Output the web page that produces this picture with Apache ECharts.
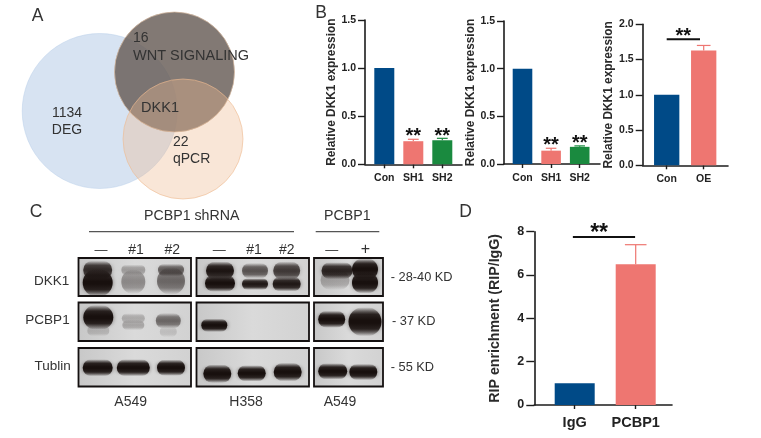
<!DOCTYPE html>
<html><head><meta charset="utf-8">
<style>html,body{margin:0;padding:0;background:#fff}#c{width:761px;height:438px;filter:blur(0.45px)}</style>
<script src="https://cdn.jsdelivr.net/npm/echarts@6/dist/echarts.min.js"></script>
</head><body><div id="c"></div>
<script>
// ---- data ----
const vennCounts = ['1134', '16', '22'];
const vennNames = ['DEG', 'WNT SIGNALING', 'qPCR'];
const panel1Categories = ['Con', 'SH1', 'SH2'];
const panel1Values = [1.0, 0.24, 0.25];
const panel1ErrorTops = [null, 0.26, 0.27];
const panel2Categories = ['Con', 'SH1', 'SH2'];
const panel2Values = [1.0, 0.14, 0.18];
const panel2ErrorTops = [null, 0.165, 0.19];
const panel3Categories = ['Con', 'OE'];
const panel3Values = [1.0, 1.63];
const panel3ErrorTops = [null, 1.70];
const panelDCategories = ['IgG', 'PCBP1'];
const panelDValues = [1.0, 6.5];
const panelDErrorTops = [null, 7.4];
const blotRows = ['DKK1', 'PCBP1', 'Tublin'];
const blotSizes = ['- 28-40 KD', '- 37 KD', '- 55 KD'];
const blotCells = ['A549', 'H358', 'A549'];
// band darkness (0..1) in reading order of bandBoxes
const bandDarkness = [
  .8,1, .28,.36, .55,.5,   .95,1, .6,.92, .72,.92,   .85,.25, 1,1,
  1,.16, .22,.24, .5,.12,    1,                         1,1,
  1,1,1,                    1,1,1,                     1,1
];

// ---- layout (pixels) ----
const W = 761, H = 438;
const C = {blue:'#004a87', pink:'#ee7671', green:'#1a8a3f', ax:'#1c1c1c', txt:'#333'};
const FONT = '"Liberation Sans", Arial, sans-serif';
const bandBoxes = [ // cx, cy, w, h
 [97.7,270,27,11],[97.7,282.7,28,17],[133.3,270,22,6],[133.3,281.7,22,15],[171,270,24,7],[171,281,26,17],
 [220,270.7,26,11],[220,283.3,28,10],[255,270.7,24,9],[255,284,24,6.5],[286.7,270.7,25,11],[286.7,284,26,8.5],
 [337,270.7,29,10],[335,280,27,12],[365,269.3,24,13],[365,282.7,24,13],
 [98.3,317.3,28,15],[98.3,330.7,20,6],[133.3,318.3,21,5.5],[133.3,325,20,5.5],[168.3,320.7,23,9],[168.3,331.7,15,6],
 [214.3,325.3,24,7.5],
 [331.7,319.3,25,10],[365,321.7,31,18],
 [97.7,367.7,28,10],[133.3,367.7,31,10],[171,367.7,26,9.5],
 [217.3,373.7,26,11],[251.7,373.3,26,9.5],[287.7,372,26,11],
 [332.7,371.3,27,9.5],[363.3,372,26,9.5]
];
const blotBoxes = [];
const rowsY = [[258,296],[302.5,341],[348,386.5]], colsX = [[78.5,191],[196.5,309],[314,383]];
rowsY.forEach(r => colsX.forEach(c => blotBoxes.push([c[0], r[0], c[1]-c[0], r[1]-r[0]])));
const vennCircles = [ // cx, cy, r, fill, stroke
 [99.7,111,77.5,'rgba(176,200,230,0.5)','rgba(176,200,230,0.4)'],
 [174.5,72,60,'rgba(102,92,85,0.82)','rgba(215,185,160,0.7)'],
 [183,139,60,'rgba(238,186,145,0.36)','rgba(238,186,145,0.6)']
];

const panels = [
 {cats:panel1Categories, vals:panel1Values, errs:panel1ErrorTops, colors:[C.blue,C.pink,C.green], left:365, right:462, top:20, bottom:164.3, first:384.3, band:29, bw:20, max:1.5, step:.5, dec:1,
  name:'Relative DKK1 expression', nameSize:11.9, nameGap:24, tick:10.5, xl:10.5, tl:7, lm:9, xm:8.5, star:20, stars:[[1,.333],[2,.333]], sig:null},
 {cats:panel2Categories, vals:panel2Values, errs:panel2ErrorTops, colors:[C.blue,C.pink,C.green], left:504, right:600, top:21, bottom:164, first:522.5, band:28.6, bw:19.6, max:1.5, step:.5, dec:1,
  name:'Relative DKK1 expression', nameSize:11.9, nameGap:22, tick:10.5, xl:10.5, tl:7, lm:9, xm:8.5, star:20, stars:[[1,.234],[2,.259]], sig:null},
 {cats:panel3Categories, vals:panel3Values, errs:panel3ErrorTops, colors:[C.blue,C.pink], left:642.7, right:728, top:24.3, bottom:165.3, first:666.7, band:37, bw:25.3, max:2, step:.5, dec:1,
  name:'Relative DKK1 expression', nameSize:11.9, nameGap:22, tick:10.5, xl:10.5, tl:7, lm:9, xm:8.5, star:20, stars:[[.45,1.887]], sig:[0,.9,1.787]},
 {cats:panelDCategories, vals:panelDValues, errs:panelDErrorTops, colors:[C.blue,C.pink], left:534.3, right:672, top:231.7, bottom:405, first:574.7, band:61, bw:40, max:8, step:2, dec:0,
  name:'RIP enrichment (RIP/IgG)', nameSize:14.2, nameGap:32, tick:12.5, xl:14.5, tl:8, lm:10, xm:10, star:23, stars:[[.4,8.08]], sig:[-.03,.99,7.75]}
];

const grid=[], xAxis=[], yAxis=[], series=[];
grid.push({left:0, top:0, width:W, height:H, show:false});
xAxis.push({type:'value', min:0, max:W, show:false, gridIndex:0});
yAxis.push({type:'value', min:0, max:H, inverse:true, show:false, gridIndex:0});

// Venn circles
series.push({type:'custom', xAxisIndex:0, yAxisIndex:0, silent:true, clip:false, z:1,
  data:vennCircles.map((c,i)=>[c[0],c[1],i]),
  renderItem(p,api){const c=vennCircles[api.value(2)];const q=api.coord([c[0],c[1]]);
    return {type:'circle',shape:{cx:q[0],cy:q[1],r:c[2]},style:{fill:c[3],stroke:c[4],lineWidth:1}};}});
// Blot backgrounds
series.push({type:'custom', xAxisIndex:0, yAxisIndex:0, silent:true, clip:false, z:1,
  data:blotBoxes.map((b,i)=>[b[0],b[1],i]),
  renderItem(p,api){const b=blotBoxes[api.value(2)];const q=api.coord([b[0],b[1]]);
    return {type:'rect',shape:{x:q[0],y:q[1],width:b[2],height:b[3]},
      style:{fill:{type:'linear',x:0,y:0,x2:1,y2:0,colorStops:[{offset:0,color:'#c8c8c8'},{offset:.5,color:'#dadada'},{offset:1,color:'#d2d2d2'}]}}};}});
// Bands: soft-edged via a vertical gradient and a blurred shadow
series.push({type:'custom', xAxisIndex:0, yAxisIndex:0, silent:true, clip:false, z:2,
  data:bandBoxes.map((b,i)=>[b[0],b[1],i]),
  renderItem(p,api){const i=api.value(2),b=bandBoxes[i],d=bandDarkness[i];const q=api.coord([b[0],b[1]]);
    const rgba=a=>'rgba(24,16,14,'+a+')';
    const h=b[3]*1.5+2, w=b[2]+2;
    return {type:'rect',shape:{x:q[0]-w/2,y:q[1]-h/2,width:w,height:h,r:h/2},
      style:{fill:{type:'linear',x:0,y:0,x2:0,y2:1,colorStops:[
        {offset:0,color:rgba(0)},{offset:.25,color:rgba(d*.85)},{offset:.45,color:rgba(d)},
        {offset:.55,color:rgba(d)},{offset:.75,color:rgba(d*.85)},{offset:1,color:rgba(0)}]},
        shadowBlur:4,shadowColor:rgba(d*.5)}};}});
// Blot borders
series.push({type:'custom', xAxisIndex:0, yAxisIndex:0, silent:true, clip:false, z:3,
  data:blotBoxes.map((b,i)=>[b[0],b[1],i]),
  renderItem(p,api){const b=blotBoxes[api.value(2)];const q=api.coord([b[0],b[1]]);
    return {type:'rect',shape:{x:q[0],y:q[1],width:b[2],height:b[3]},style:{fill:'none',stroke:'#141010',lineWidth:1.8}};}});

panels.forEach((P,k)=>{
  const gi=k+1;
  grid.push({left:P.left, top:P.top, width:P.right-P.left, height:P.bottom-P.top, show:false});
  const idx=P.cats.map((_,i)=>i);
  xAxis.push({type:'value', gridIndex:gi, min:(P.left-P.first)/P.band, max:(P.right-P.first)/P.band,
    splitLine:{show:false},
    axisLine:{show:true,lineStyle:{color:C.ax,width:1.6}},
    axisTick:{show:true,length:4,customValues:idx,lineStyle:{color:C.ax,width:1.4}},
    axisLabel:{show:true,customValues:idx,margin:P.xm,color:'#222',fontFamily:FONT,fontWeight:'bold',fontSize:P.xl,
      formatter:v=>P.cats[Math.round(v)]}});
  yAxis.push({type:'value', gridIndex:gi, min:0, max:P.max, interval:P.step,
    splitLine:{show:false},
    axisLine:{show:true,onZero:false,lineStyle:{color:C.ax,width:1.6}},
    axisTick:{show:true,length:P.tl,lineStyle:{color:C.ax,width:1.4}},
    axisLabel:{margin:P.lm,color:'#222',fontFamily:FONT,fontWeight:'bold',fontSize:P.tick,formatter:v=>v.toFixed(P.dec)},
    name:P.name,nameLocation:'middle',nameGap:P.nameGap,nameRotate:90,
    nameTextStyle:{color:'#2a2a2a',fontFamily:FONT,fontWeight:'bold',fontSize:P.nameSize}});
  series.push({type:'bar',xAxisIndex:gi,yAxisIndex:gi,barWidth:P.bw,silent:true,z:3,
    data:P.vals.map((v,i)=>({value:[i,v],itemStyle:{color:P.colors[i]}}))});
  // error bars
  series.push({type:'custom',xAxisIndex:gi,yAxisIndex:gi,silent:true,clip:false,z:2,
    data:P.errs.map((e,i)=>[i,P.vals[i],e]).filter(d=>d[2]!=null),
    renderItem(p,api){const a=api.coord([api.value(0),api.value(1)]),b=api.coord([api.value(0),api.value(2)]);
      const col=P.colors[api.value(0)],cap=P.bw*.27;
      return {type:'group',children:[
        {type:'line',shape:{x1:a[0],y1:a[1],x2:b[0],y2:b[1]},style:{stroke:col,lineWidth:1.2}},
        {type:'line',shape:{x1:b[0]-cap,y1:b[1],x2:b[0]+cap,y2:b[1]},style:{stroke:col,lineWidth:1.2}}]};}});
  // stars
  series.push({type:'custom',xAxisIndex:gi,yAxisIndex:gi,silent:true,clip:false,z:4,
    data:P.stars,
    renderItem(p,api){const a=api.coord([api.value(0),api.value(1)]);
      return {type:'text',style:{x:a[0],y:a[1]+4,text:'**',align:'center',verticalAlign:'middle',
        font:'bold '+P.star+'px '+FONT,fill:'#111'}};}});
  if(P.sig) series.push({type:'custom',xAxisIndex:gi,yAxisIndex:gi,silent:true,clip:false,z:4,
    data:[P.sig],
    renderItem(p,api){const a=api.coord([api.value(0),api.value(2)]),b=api.coord([api.value(1),api.value(2)]);
      return {type:'line',shape:{x1:a[0],y1:a[1],x2:b[0],y2:b[1]},style:{stroke:'#111',lineWidth:2}};}});
});

const T=(x,y,text,size,align,extra)=>Object.assign({type:'text',x,y,z:20,
  style:Object.assign({text,align:align||'center',verticalAlign:'middle',font:(size||13)+'px '+FONT,fill:C.txt},extra||{})});
const L=(x1,x2,y)=>({type:'line',z:20,shape:{x1,y1:y,x2,y2:y},style:{stroke:'#555',lineWidth:1.2}});
const graphic=[
  T(37.5,16.5,'A',17.5), T(321,13,'B',17.5), T(36,212,'C',17.5), T(465.5,212,'D',17.5),
  T(133,38.5,vennCounts[1],14,'left'), T(133,56,vennNames[1],14.5,'left'),
  T(160,108,'DKK1',14.5), T(67,113,vennCounts[0],14), T(67,130,vennNames[0],14),
  T(173,142.5,vennCounts[2],14,'left'), T(173,159,vennNames[2],14,'left'),
  T(191.7,215.7,'PCBP1 shRNA',14.2), L(89,294,231.7), T(347.3,215.7,'PCBP1',14.2), L(315.7,379.3,231.7),
  T(101,250,'—',13), T(136,250,'#1',14), T(172.3,250,'#2',14),
  T(219.3,250,'—',13), T(254,250,'#1',14), T(286.7,250,'#2',14),
  T(331.7,250,'—',13), T(365.3,250,'+',16),
  T(51.7,281.7,blotRows[0],13.5), T(47.5,320.7,blotRows[1],13.5), T(52.7,366.7,blotRows[2],13.5),
  T(390.7,277.3,blotSizes[0],12.8,'left'), T(392,321,blotSizes[1],12.8,'left'), T(390.7,367.7,blotSizes[2],12.8,'left'),
  T(130.7,401.7,blotCells[0],14), T(246,401.7,blotCells[1],14), T(340,401.7,blotCells[2],14)
];

const chart=echarts.init(document.getElementById('c'),null,{width:W,height:H});
chart.setOption({animation:false,backgroundColor:'#fff',grid,xAxis,yAxis,series,graphic,tooltip:{show:false}});
</script></body></html>
